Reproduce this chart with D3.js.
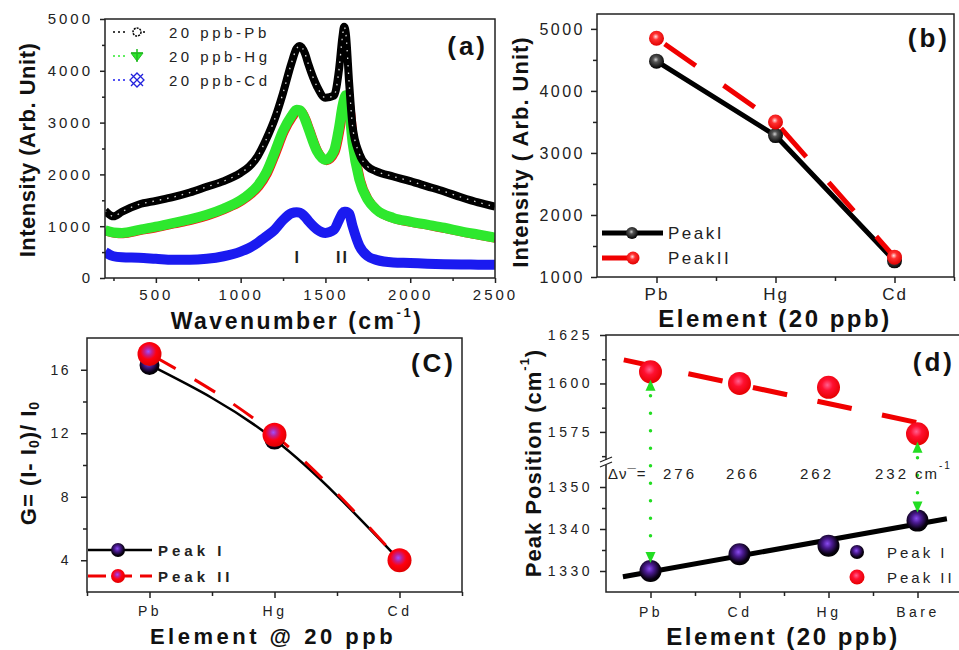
<!DOCTYPE html>
<html>
<head>
<meta charset="utf-8">
<script src="https://cdn.jsdelivr.net/npm/d3@7"></script>
<style>
body { margin: 0; background: #fff; }
text { font-family: "Liberation Sans", Arial, sans-serif; fill: #222; }
.ttl { font-weight: bold; fill: #111; }
</style>
</head>
<body>
<div id="chart"></div>
<script>
// ---- data ----
var waveNumber = [200,250,300,400,500,600,700,800,900,1000,1050,1100,1150,1200,1250,1300,1330,1350,1380,1400,
                  1450,1500,1550,1580,1600,1610,1620,1640,1660,1700,1750,1800,1900,2000,2100,2200,2300,2400,2500];
var specPb = [1300,1190,1280,1420,1490,1560,1650,1760,1870,2030,2150,2350,2670,3060,3570,4150,4430,4480,4330,4120,
              3700,3480,3520,4020,4650,4850,4730,3760,2930,2400,2150,2060,1960,1870,1770,1670,1560,1460,1380];
var specHg = [920,880,870,930,990,1060,1130,1220,1340,1500,1620,1780,2030,2420,2840,3130,3250,3240,3060,2880,
              2450,2280,2450,2900,3310,3450,3530,3250,2610,1900,1510,1320,1160,1090,1030,970,900,840,780];
var specCd = [500,420,400,390,370,350,350,370,420,510,580,680,800,930,1120,1250,1270,1260,1180,1100,
              940,870,930,1120,1250,1280,1280,1240,1000,620,420,350,300,290,275,265,260,258,255];
var specNames = ["20 ppb-Pb", "20 ppb-Hg", "20 ppb-Cd"];

var elementsB = ["Pb", "Hg", "Cd"];
var intensityPeakI = [4480, 3280, 1260];
var intensityPeakII = [4850, 3500, 1320];

var gainPeakI = [16.3, 11.6, 4.0];
var gainPeakII = [17.0, 11.9, 4.0];

var elementsD = ["Pb", "Cd", "Hg", "Bare"];
var posPeakI = [1330, 1334, 1336, 1342];
var posPeakII = [1606, 1600, 1598, 1574];
var ramanShift = ["276", "266", "262", "232"];

// ---- setup ----
var svg = d3.select("#chart").append("svg")
    .attr("width", 959).attr("height", 650);
var intFmt = d3.format("d");

var defs = svg.append("defs");
function radial(id, stops) {
    var g = defs.append("radialGradient").attr("id", id)
        .attr("cx", "45%").attr("cy", "40%").attr("r", "60%");
    stops.forEach(function(s) {
        g.append("stop").attr("offset", s[0]).attr("stop-color", s[1]);
    });
}
radial("blkB", [["0%", "#d0d0d0"], ["30%", "#555"], ["100%", "#000"]]);
radial("redB", [["0%", "#ffe0e0"], ["35%", "#ff3030"], ["100%", "#e00000"]]);
radial("blkP", [["0%", "#8a4cf0"], ["35%", "#4a1a90"], ["80%", "#080010"], ["100%", "#000"]]);
radial("redP", [["0%", "#a050ff"], ["25%", "#c02090"], ["55%", "#ff0010"], ["100%", "#e00000"]]);
radial("redD", [["0%", "#ff6090"], ["40%", "#ff1030"], ["100%", "#e60000"]]);

function styleAxis(sel, fs, ls) {
    sel.select(".domain").remove();
    sel.selectAll(".tick line").attr("stroke", "#222").attr("stroke-width", 1.5);
    sel.selectAll(".tick text").style("font-size", fs + "px")
        .style("letter-spacing", ls + "px").attr("fill", "#222");
}
function frame(g, x0, y0, x1, y1) {
    g.append("rect").attr("x", x0).attr("y", y0)
        .attr("width", x1 - x0).attr("height", y1 - y0)
        .attr("fill", "none").attr("stroke", "#222").attr("stroke-width", 1.5);
}
function panelTag(g, x, y, t) {
    g.append("text").attr("class", "ttl").attr("x", x).attr("y", y)
        .attr("text-anchor", "end").attr("dominant-baseline", "central")
        .style("font-size", "26px").style("letter-spacing", "3px").text(t);
}

// ================= (a) =================
var gA = svg.append("g");
var xA = d3.scaleLinear().domain([200, 2500]).range([105, 495]);
var yA = d3.scaleLinear().domain([0, 5000]).range([278, 19]);

defs.append("clipPath").attr("id", "clipA").append("rect")
    .attr("x", 105).attr("y", 19).attr("width", 390).attr("height", 259);

var lineA = function(vals) {
    return d3.line().x(function(d, i) { return xA(waveNumber[i]); })
        .y(function(d) { return yA(d); }).curve(d3.curveMonotoneX)(vals);
};
var plotA = gA.append("g").attr("clip-path", "url(#clipA)");
plotA.append("path").attr("d", lineA(specHg)).attr("fill", "none")
    .attr("stroke", "#ff1010").attr("stroke-width", 9).attr("transform", "translate(1.2,0.8)");
plotA.append("path").attr("d", lineA(specHg)).attr("fill", "none")
    .attr("stroke", "#2ee82e").attr("stroke-width", 10).attr("stroke-linejoin", "round");
plotA.append("path").attr("d", lineA(specCd)).attr("fill", "none")
    .attr("stroke", "#1a1af0").attr("stroke-width", 10).attr("stroke-linejoin", "round");
plotA.append("path").attr("d", lineA(specPb)).attr("fill", "none")
    .attr("stroke", "#000").attr("stroke-width", 8).attr("stroke-linejoin", "round");
plotA.append("path").attr("d", lineA(specPb)).attr("fill", "none")
    .attr("stroke", "#fff").attr("stroke-width", 1.3).attr("stroke-dasharray", "1.5,6").attr("opacity", 0.85);

gA.append("g").attr("transform", "translate(0,278)")
    .call(d3.axisBottom(xA).tickValues([500, 1000, 1500, 2000, 2500]).tickFormat(intFmt).tickSize(5).tickPadding(6))
    .call(styleAxis, 15, 3);
gA.append("g").attr("transform", "translate(0,278)")
    .call(d3.axisBottom(xA).tickValues([250, 750, 1250, 1750, 2250]).tickSize(3).tickFormat(""))
    .call(styleAxis, 15, 3);
gA.append("g").attr("transform", "translate(105,0)")
    .call(d3.axisLeft(yA).tickValues([0, 1000, 2000, 3000, 4000, 5000]).tickFormat(intFmt).tickSize(5).tickPadding(7))
    .call(styleAxis, 15, 3);
gA.append("g").attr("transform", "translate(105,0)")
    .call(d3.axisLeft(yA).tickValues([500, 1500, 2500, 3500, 4500]).tickSize(3).tickFormat(""))
    .call(styleAxis, 15, 3);
frame(gA, 105, 19, 495, 278);

// legend (a)
var legColors = ["#000", "#2ee82e", "#1a1af0"];
specNames.forEach(function(name, i) {
    var ly = 32 + i * 24;
    [114, 119, 124].forEach(function(dx) {
        gA.append("circle").attr("cx", dx).attr("cy", ly).attr("r", 1).attr("fill", legColors[i]);
    });
    var mx = 137;
    if (i === 0) {
        gA.append("circle").attr("cx", mx).attr("cy", ly).attr("r", 4).attr("fill", "none")
            .attr("stroke", "#000").attr("stroke-width", 1.5).attr("stroke-dasharray", "2,1");
        gA.append("circle").attr("cx", mx + 7).attr("cy", ly).attr("r", 1).attr("fill", "#000");
    } else if (i === 1) {
        gA.append("path").attr("d", "M" + (mx - 6) + "," + (ly - 3) + "L" + (mx + 6) + "," + (ly - 3) + "L" + mx + "," + (ly + 5) + "Z")
            .attr("fill", "#2ee82e").attr("stroke", "#22bb22");
        gA.append("path").attr("d", "M" + mx + "," + (ly - 7) + "V" + (ly + 6) + "M" + (mx - 6) + "," + (ly - 3) + "H" + (mx + 6))
            .attr("stroke", "#22bb22").attr("stroke-width", 1.5);
    } else {
        gA.append("path").attr("d", "M" + (mx - 6) + "," + (ly - 6) + "L" + (mx + 6) + "," + (ly + 6) + "M" + (mx + 6) + "," + (ly - 6) + "L" + (mx - 6) + "," + (ly + 6)
            + "M" + mx + "," + (ly - 7) + "L" + (mx + 7) + "," + ly + "L" + mx + "," + (ly + 7) + "L" + (mx - 7) + "," + ly + "Z")
            .attr("fill", "none").attr("stroke", "#2222dd").attr("stroke-width", 1.3);
    }
    gA.append("text").attr("x", 169).attr("y", ly).attr("dominant-baseline", "central")
        .style("font-size", "15px").style("letter-spacing", "3.5px").text(name);
});

gA.append("text").attr("x", xA(1330)).attr("y", 257).attr("text-anchor", "middle").attr("dominant-baseline", "central")
    .style("font-size", "16px").style("font-weight", "bold").text("I");
gA.append("text").attr("x", xA(1600)).attr("y", 257).attr("text-anchor", "middle").attr("dominant-baseline", "central")
    .style("font-size", "16px").style("font-weight", "bold").style("letter-spacing", "2px").text("II");
panelTag(gA, 488, 46, "(a)");

gA.append("text").attr("class", "ttl").attr("transform", "translate(27,150) rotate(-90)")
    .attr("text-anchor", "middle").attr("dominant-baseline", "central")
    .style("font-size", "22px").style("letter-spacing", "0.5px").text("Intensity (Arb. Unit)");
var tA = gA.append("text").attr("class", "ttl").attr("x", 297).attr("y", 321)
    .attr("text-anchor", "middle").attr("dominant-baseline", "central")
    .style("font-size", "23px").style("letter-spacing", "2.5px");
tA.append("tspan").text("Wavenumber (cm");
tA.append("tspan").attr("dy", -9).style("font-size", "13px").text("-1");
tA.append("tspan").attr("dy", 9).text(")");

// ================= (b) =================
var gB = svg.append("g");
var xB = d3.scaleLinear().domain([0.5, 3.5]).range([597, 954]);
var yB = d3.scaleLinear().domain([1000, 5240]).range([277, 14]);

gB.append("g").attr("transform", "translate(0,277)")
    .call(d3.axisBottom(xB).tickValues([1, 2, 3]).tickFormat(function(d) { return elementsB[d - 1]; }).tickSize(6).tickPadding(5))
    .call(styleAxis, 17, 2);
gB.append("g").attr("transform", "translate(0,277)")
    .call(d3.axisBottom(xB).tickValues([1.5, 2.5, 3.5]).tickSize(4).tickFormat(""))
    .call(styleAxis, 17, 2);
gB.append("g").attr("transform", "translate(597,0)")
    .call(d3.axisLeft(yB).tickValues([1000, 2000, 3000, 4000, 5000]).tickFormat(intFmt).tickSize(6).tickPadding(6))
    .call(styleAxis, 16, 2.5);
gB.append("g").attr("transform", "translate(597,0)")
    .call(d3.axisLeft(yB).tickValues([1500, 2500, 3500, 4500]).tickSize(4).tickFormat(""))
    .call(styleAxis, 16, 2.5);
frame(gB, 597, 14, 954, 277);

var lineB = d3.line().x(function(d, i) { return xB(i + 1); }).y(function(d) { return yB(d); });
gB.append("path").attr("d", lineB(intensityPeakI)).attr("fill", "none")
    .attr("stroke", "#000").attr("stroke-width", 5).attr("stroke-linejoin", "round");
gB.append("path").attr("d", lineB(intensityPeakII)).attr("fill", "none")
    .attr("stroke", "#f00000").attr("stroke-width", 5).attr("stroke-dasharray", "38,34").attr("stroke-dashoffset", -10);
gB.selectAll("circle.p1").data(intensityPeakI).enter().append("circle").attr("class", "p1")
    .attr("cx", function(d, i) { return xB(i + 1); }).attr("cy", function(d) { return yB(d); })
    .attr("r", 7.5).attr("fill", "url(#blkB)");
gB.selectAll("circle.p2").data(intensityPeakII).enter().append("circle").attr("class", "p2")
    .attr("cx", function(d, i) { return xB(i + 1); }).attr("cy", function(d) { return yB(d); })
    .attr("r", 7.5).attr("fill", "url(#redB)");

gB.append("line").attr("x1", 602).attr("x2", 663).attr("y1", 233).attr("y2", 233).attr("stroke", "#000").attr("stroke-width", 5);
gB.append("circle").attr("cx", 632).attr("cy", 233).attr("r", 6).attr("fill", "url(#blkB)");
gB.append("line").attr("x1", 602).attr("x2", 638).attr("y1", 258).attr("y2", 258).attr("stroke", "#f00000").attr("stroke-width", 5);
gB.append("circle").attr("cx", 633).attr("cy", 258).attr("r", 6.5).attr("fill", "url(#redB)");
gB.append("text").attr("x", 668).attr("y", 233).attr("dominant-baseline", "central")
    .style("font-size", "17px").style("letter-spacing", "2.5px").text("PeakI");
gB.append("text").attr("x", 668).attr("y", 258).attr("dominant-baseline", "central")
    .style("font-size", "17px").style("letter-spacing", "2.5px").text("PeakII");
panelTag(gB, 950, 38, "(b)");

gB.append("text").attr("class", "ttl").attr("transform", "translate(520,152) rotate(-90)")
    .attr("text-anchor", "middle").attr("dominant-baseline", "central")
    .style("font-size", "22px").style("letter-spacing", "1px").text("Intensity ( Arb. Unit)");
gB.append("text").attr("class", "ttl").attr("x", 775).attr("y", 318)
    .attr("text-anchor", "middle").attr("dominant-baseline", "central")
    .style("font-size", "24px").style("letter-spacing", "2.5px").text("Element (20 ppb)");

// ================= (c) =================
var gC = svg.append("g");
var xC = d3.scaleLinear().domain([0.5, 3.5]).range([87, 462]);
var yC = d3.scaleLinear().domain([2, 18]).range([592, 338]);

gC.append("g").attr("transform", "translate(0,592)")
    .call(d3.axisBottom(xC).tickValues([1, 2, 3]).tickFormat(function(d) { return elementsB[d - 1]; }).tickSize(6).tickPadding(8))
    .call(styleAxis, 14, 3.5);
gC.append("g").attr("transform", "translate(0,592)")
    .call(d3.axisBottom(xC).tickValues([0.5, 1.5, 2.5, 3.5]).tickSize(4).tickFormat(""))
    .call(styleAxis, 14, 3);
gC.append("g").attr("transform", "translate(87,0)")
    .call(d3.axisLeft(yC).tickValues([4, 8, 12, 16]).tickSize(6).tickPadding(10))
    .call(styleAxis, 14, 2.5);
gC.append("g").attr("transform", "translate(87,0)")
    .call(d3.axisLeft(yC).tickValues([6, 10, 14]).tickSize(4).tickFormat(""))
    .call(styleAxis, 14, 2.5);
frame(gC, 87, 338, 462, 592);

var lineC1 = d3.line().x(function(d, i) { return xC(i + 1); }).y(function(d) { return yC(d); }).curve(d3.curveMonotoneX);
gC.append("path").attr("d", lineC1(gainPeakI)).attr("fill", "none")
    .attr("stroke", "#000").attr("stroke-width", 2.5);
gC.append("path").attr("d", lineC1(gainPeakII)).attr("fill", "none")
    .attr("stroke", "#f00000").attr("stroke-width", 3).attr("stroke-dasharray", "24,22").attr("stroke-dashoffset", -6);
gC.selectAll("circle.p1").data(gainPeakI).enter().append("circle").attr("class", "p1")
    .attr("cx", function(d, i) { return xC(i + 1); }).attr("cy", function(d) { return yC(d); })
    .attr("r", 10).attr("fill", "url(#blkP)");
gC.selectAll("circle.p2").data(gainPeakII).enter().append("circle").attr("class", "p2")
    .attr("cx", function(d, i) { return xC(i + 1); }).attr("cy", function(d) { return yC(d); })
    .attr("r", 12).attr("fill", "url(#redP)");

gC.append("line").attr("x1", 88).attr("x2", 152).attr("y1", 550).attr("y2", 550).attr("stroke", "#000").attr("stroke-width", 2.5);
gC.append("circle").attr("cx", 118).attr("cy", 550).attr("r", 7).attr("fill", "url(#blkP)");
gC.append("line").attr("x1", 88).attr("x2", 152).attr("y1", 576).attr("y2", 576).attr("stroke", "#f00000")
    .attr("stroke-width", 3).attr("stroke-dasharray", "18,8");
gC.append("circle").attr("cx", 118).attr("cy", 576).attr("r", 7).attr("fill", "url(#redP)");
gC.append("text").attr("x", 158).attr("y", 550).attr("dominant-baseline", "central")
    .style("font-size", "15px").style("font-weight", "bold").style("letter-spacing", "4px").text("Peak I");
gC.append("text").attr("x", 158).attr("y", 576).attr("dominant-baseline", "central")
    .style("font-size", "15px").style("font-weight", "bold").style("letter-spacing", "4px").text("Peak II");
panelTag(gC, 456, 363, "(C)");

var tC = gC.append("text").attr("class", "ttl").attr("transform", "translate(28,463) rotate(-90)")
    .attr("text-anchor", "middle").attr("dominant-baseline", "central")
    .style("font-size", "22px").style("letter-spacing", "1px");
tC.append("tspan").text("G= (I- I");
tC.append("tspan").attr("dy", 6).style("font-size", "14px").text("0");
tC.append("tspan").attr("dy", -6).text(")/ I");
tC.append("tspan").attr("dy", 6).style("font-size", "14px").text("0");
gC.append("text").attr("class", "ttl").attr("x", 273).attr("y", 636)
    .attr("text-anchor", "middle").attr("dominant-baseline", "central")
    .style("font-size", "22px").style("letter-spacing", "3.5px").text("Element @ 20 ppb");

// ================= (d) =================
var gD = svg.append("g");
var xD = d3.scaleLinear().domain([0.5, 4.5]).range([606, 962]);
var yLow = d3.scaleLinear().domain([1325, 1355]).range([592, 466]);
var yHigh = d3.scaleLinear().domain([1560, 1625]).range([461, 335]);

gD.append("g").attr("transform", "translate(0,592)")
    .call(d3.axisBottom(xD).tickValues([1, 2, 3, 4]).tickFormat(function(d) { return elementsD[d - 1]; }).tickSize(6).tickPadding(9))
    .call(styleAxis, 14, 3.5);
gD.append("g").attr("transform", "translate(0,592)")
    .call(d3.axisBottom(xD).tickValues([1.5, 2.5, 3.5]).tickSize(4).tickFormat(""))
    .call(styleAxis, 14, 3);
gD.append("g").attr("transform", "translate(606,0)")
    .call(d3.axisLeft(yHigh).tickValues([1575, 1600, 1625]).tickFormat(intFmt).tickSize(6).tickPadding(7))
    .call(styleAxis, 14, 3.5);
gD.append("g").attr("transform", "translate(606,0)")
    .call(d3.axisLeft(yHigh).tickValues([1562.5, 1587.5, 1612.5]).tickSize(4).tickFormat(""))
    .call(styleAxis, 14, 3);
gD.append("g").attr("transform", "translate(606,0)")
    .call(d3.axisLeft(yLow).tickValues([1330, 1340, 1350]).tickFormat(intFmt).tickSize(6).tickPadding(7))
    .call(styleAxis, 14, 3.5);
gD.append("g").attr("transform", "translate(606,0)")
    .call(d3.axisLeft(yLow).tickValues([1335, 1345]).tickSize(4).tickFormat(""))
    .call(styleAxis, 14, 3);
frame(gD, 606, 335, 963, 592);
// axis break
gD.append("rect").attr("x", 602).attr("y", 460).attr("width", 8).attr("height", 5).attr("fill", "#fff");
gD.append("path").attr("d", "M600,462L612,457M600,467L612,462").attr("stroke", "#222").attr("stroke-width", 1.3);

// linear fits
function fit(vals) {
    var xs = vals.map(function(d, i) { return i + 1; });
    var mx = d3.mean(xs), my = d3.mean(vals);
    var s = d3.sum(xs, function(x, i) { return (x - mx) * (vals[i] - my); }) /
            d3.sum(xs, function(x) { return (x - mx) * (x - mx); });
    return function(x) { return my + s * (x - mx); };
}
var f1 = fit(posPeakI), f2 = fit(posPeakII);
gD.append("line").attr("x1", xD(0.69)).attr("y1", yLow(f1(0.69))).attr("x2", xD(4.33)).attr("y2", yLow(f1(4.33)))
    .attr("stroke", "#000").attr("stroke-width", 5);
gD.append("line").attr("x1", xD(0.7)).attr("y1", yHigh(f2(0.7))).attr("x2", xD(3.99)).attr("y2", yHigh(f2(3.99)))
    .attr("stroke", "#f00000").attr("stroke-width", 5).attr("stroke-dasharray", "35,31");

gD.selectAll("circle.p1").data(posPeakI).enter().append("circle").attr("class", "p1")
    .attr("cx", function(d, i) { return xD(i + 1); }).attr("cy", function(d) { return yLow(d); })
    .attr("r", 11).attr("fill", "url(#blkP)");
gD.selectAll("circle.p2").data(posPeakII).enter().append("circle").attr("class", "p2")
    .attr("cx", function(d, i) { return xD(i + 1); }).attr("cy", function(d) { return yHigh(d); })
    .attr("r", 11.5).attr("fill", "url(#redD)");

// arrows (Pb and Bare)
[0, 3].forEach(function(i) {
    var x = xD(i + 1), yT = yHigh(posPeakII[i]) + 14, yB2 = yLow(posPeakI[i]) - 14;
    gD.append("line").attr("x1", x).attr("x2", x).attr("y1", yT + 10).attr("y2", yB2 - 6)
        .attr("stroke", "#22dd22").attr("stroke-width", 3.5).attr("stroke-linecap", "round").attr("stroke-dasharray", "0,17.5");
    gD.append("path").attr("d", "M" + x + "," + (yT - 6) + "L" + (x - 5) + "," + (yT + 5) + "L" + (x + 5) + "," + (yT + 5) + "Z")
        .attr("fill", "#22dd22");
    gD.append("path").attr("d", "M" + x + "," + (yB2 + 6) + "L" + (x - 5) + "," + (yB2 - 5) + "L" + (x + 5) + "," + (yB2 - 5) + "Z")
        .attr("fill", "#22dd22");
});

// Raman shift labels
var dvX = [680, 743, 817, 892];
gD.append("text").attr("x", 608).attr("y", 473).attr("dominant-baseline", "central")
    .style("font-size", "15px").style("letter-spacing", "1px").text("Δν¯=");
ramanShift.forEach(function(s, i) {
    gD.append("text").attr("x", dvX[i]).attr("y", 473).attr("text-anchor", "middle").attr("dominant-baseline", "central")
        .style("font-size", "15px").style("letter-spacing", "3px").text(s);
});
var cmT = gD.append("text").attr("x", 915).attr("y", 473).attr("dominant-baseline", "central")
    .style("font-size", "15px").style("letter-spacing", "2px");
cmT.append("tspan").text("cm");
cmT.append("tspan").attr("dy", -8).style("font-size", "10px").text("-1");

// legend (d)
gD.append("circle").attr("cx", 857).attr("cy", 552).attr("r", 7).attr("fill", "url(#blkP)");
gD.append("circle").attr("cx", 857).attr("cy", 577).attr("r", 7.5).attr("fill", "url(#redD)");
gD.append("text").attr("x", 887).attr("y", 552).attr("dominant-baseline", "central")
    .style("font-size", "15px").style("letter-spacing", "3px").text("Peak I");
gD.append("text").attr("x", 887).attr("y", 577).attr("dominant-baseline", "central")
    .style("font-size", "15px").style("letter-spacing", "3px").text("Peak II");
panelTag(gD, 955, 362, "(d)");

var tD = gD.append("text").attr("class", "ttl").attr("transform", "translate(533,463) rotate(-90)")
    .attr("text-anchor", "middle").attr("dominant-baseline", "central")
    .style("font-size", "22px").style("letter-spacing", "1px");
tD.append("tspan").text("Peak Position (cm");
tD.append("tspan").attr("dy", -9).style("font-size", "13px").text("-1");
tD.append("tspan").attr("dy", 9).text(")");
gD.append("text").attr("class", "ttl").attr("x", 783).attr("y", 636)
    .attr("text-anchor", "middle").attr("dominant-baseline", "central")
    .style("font-size", "24px").style("letter-spacing", "2.5px").text("Element (20 ppb)");
</script>
</body>
</html>
